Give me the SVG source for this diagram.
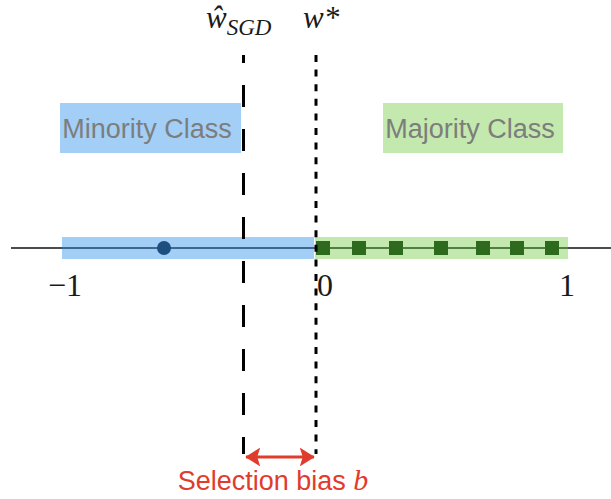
<svg xmlns="http://www.w3.org/2000/svg" width="611" height="499" viewBox="0 0 611 499">
<defs>
<style>
.serif{font-family:"Liberation Serif","Times New Roman",serif;fill:#1a1a1a}
.ital{font-style:italic}
.cls{font-family:"Liberation Sans",Arial,sans-serif;font-size:27px;fill:#7d7d7d}
.red{fill:#e03c2c}
.sq{fill:#2d6a1e}
</style>
<marker id="ah" viewBox="0 0 10 12.6" refX="9.5" refY="6.3" markerWidth="5" markerHeight="6.3" markerUnits="strokeWidth" orient="auto-start-reverse">
<path d="M0,0 L10,6.3 L0,12.6 L2,6.3 Z" fill="#e03c2c"/>
</marker>
</defs>
<rect width="611" height="499" fill="#ffffff"/>

<g id="minority-label">
<rect x="60" y="103" width="181" height="50" fill="#a3cff6"/>
<text class="cls" x="147" y="138" text-anchor="middle">Minority Class</text>
</g>
<g id="majority-label">
<rect x="383" y="103" width="180" height="50" fill="#c3e9ae"/>
<text class="cls" x="470" y="138" text-anchor="middle">Majority Class</text>
</g>

<g id="axis">
<rect x="62" y="237" width="252" height="22" fill="#a3cff6"/>
<rect x="315" y="237" width="253" height="22" fill="#c3e9ae"/>
<line x1="11" y1="248" x2="62" y2="248" stroke="#111" stroke-width="1.5"/>
<line x1="62" y1="248" x2="315" y2="248" stroke="#1d456e" stroke-width="1.5"/>
<line x1="315" y1="248" x2="568" y2="248" stroke="#2a5a20" stroke-width="1.5"/>
<line x1="568" y1="248" x2="611" y2="248" stroke="#111" stroke-width="1.5"/>
<text class="serif" x="65" y="296" font-size="32" text-anchor="middle">−1</text>
<text class="serif" x="325" y="296" font-size="32" text-anchor="middle">0</text>
<text class="serif" x="567" y="296" font-size="32" text-anchor="middle">1</text>
</g>

<g id="minority-point">
<circle cx="164" cy="248" r="7" fill="#1c4e80"/>
</g>
<g id="majority-points">
<rect class="sq" x="316" y="241" width="14" height="14"/>
<rect class="sq" x="352" y="241" width="14" height="14"/>
<rect class="sq" x="389" y="241" width="14" height="14"/>
<rect class="sq" x="434" y="241" width="14" height="14"/>
<rect class="sq" x="476" y="241" width="14" height="14"/>
<rect class="sq" x="510" y="241" width="14" height="14"/>
<rect class="sq" x="545" y="241" width="14" height="14"/>
</g>

<g id="w-sgd">
<line x1="243.5" y1="55" x2="243.5" y2="454" stroke="#000" stroke-width="3" stroke-dasharray="22 22" stroke-dashoffset="14"/>
<text class="serif ital" x="206" y="28" font-size="31">ŵ<tspan font-size="23" dy="7">SGD</tspan></text>
</g>
<g id="w-star">
<line x1="316" y1="55" x2="316" y2="454" stroke="#000" stroke-width="3" stroke-dasharray="7 7.6"/>
<text class="serif ital" x="303" y="28" font-size="31">w*</text>
</g>

<g id="connectors">
<line x1="246" y1="457" x2="314" y2="457" stroke="#e03c2c" stroke-width="3" marker-start="url(#ah)" marker-end="url(#ah)"/>
</g>
<g id="bias-label">
<text x="273" y="490" text-anchor="middle" font-size="27"><tspan class="red" font-family="Liberation Sans, Arial, sans-serif">Selection bias </tspan><tspan class="red" font-family="Liberation Serif, Times New Roman, serif" font-style="italic" font-size="30">b</tspan></text>
</g>
</svg>
